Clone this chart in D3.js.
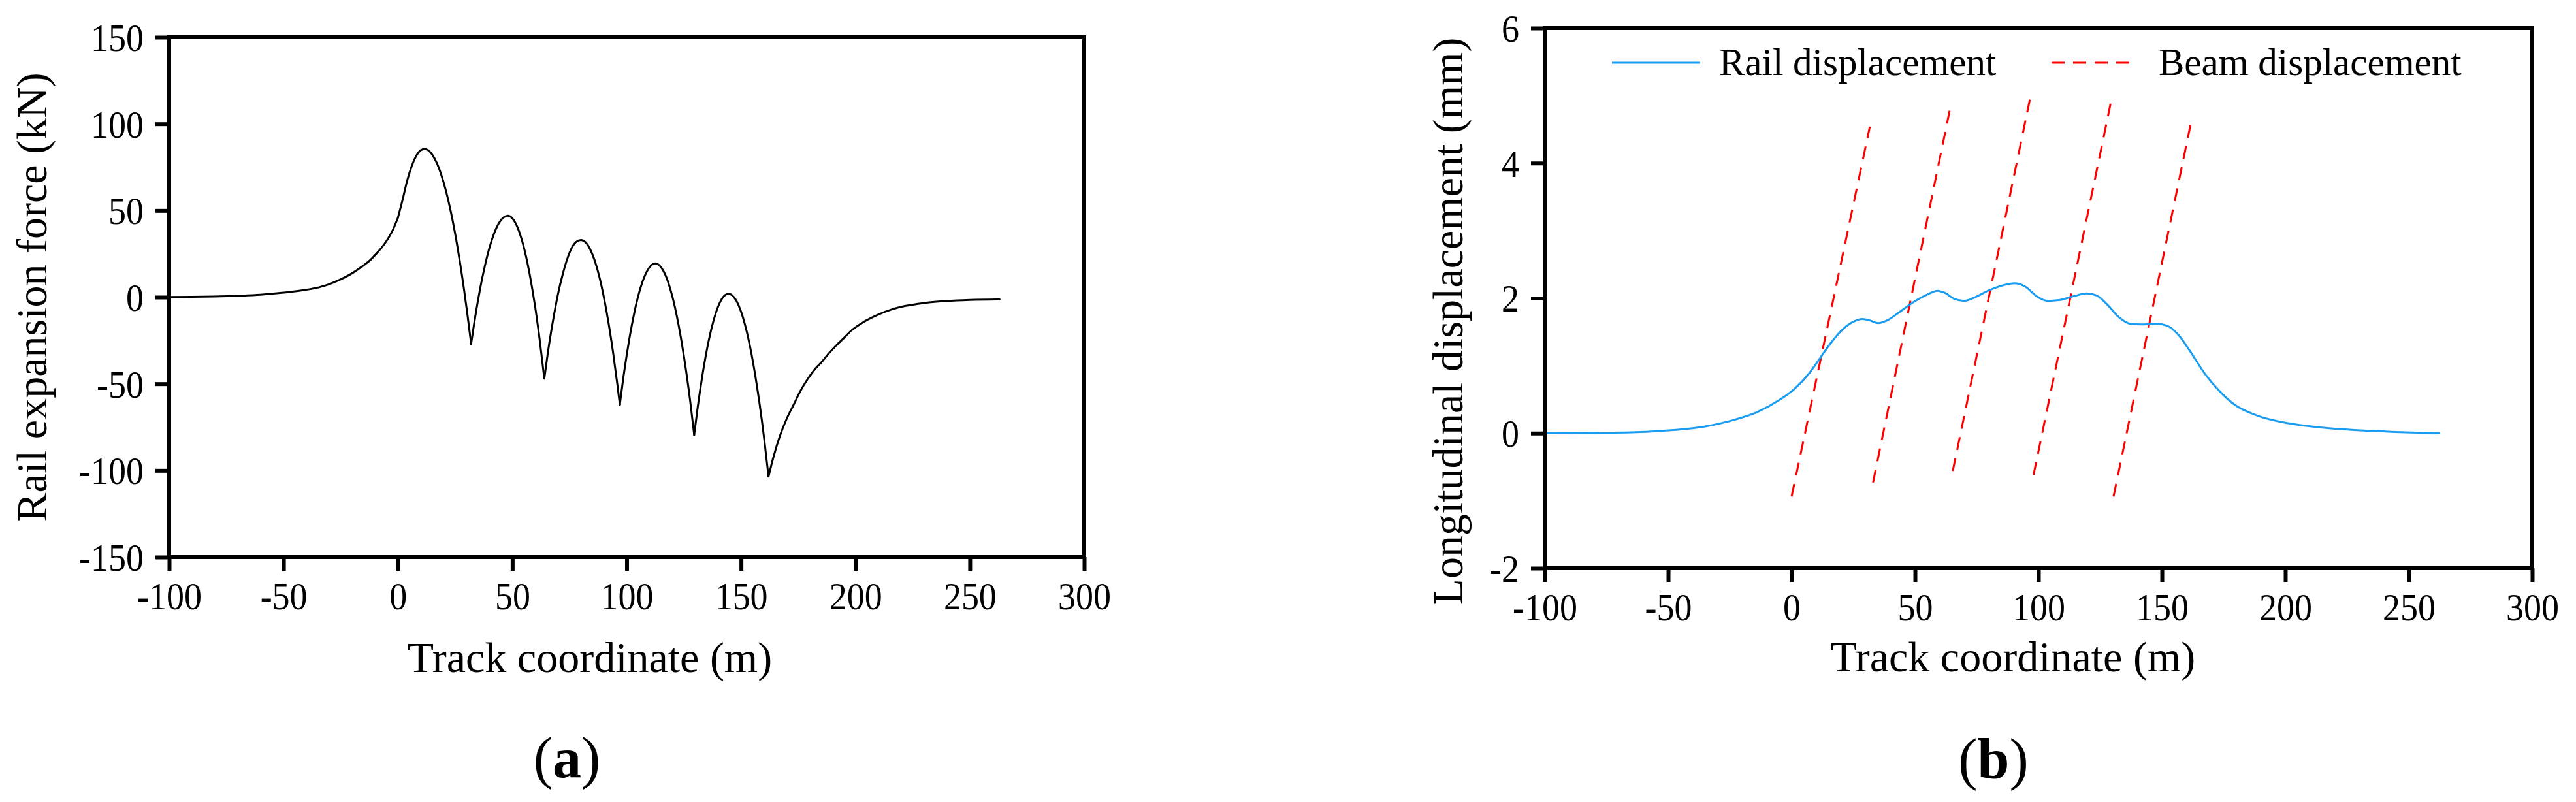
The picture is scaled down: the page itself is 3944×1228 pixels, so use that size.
<!DOCTYPE html>
<html>
<head>
<meta charset="utf-8">
<title>Rail expansion force and longitudinal displacement</title>
<script src="https://cdn.jsdelivr.net/npm/d3@7"></script>
<style>
	body { margin: 0; background: #ffffff; }
	text { font-family: "Liberation Serif", "Times New Roman", serif; fill: #000000; }
</style>
</head>
<body>
<script>
// track coordinate ticks, shared by both panels
var xTicks = [-100, -50, 0, 50, 100, 150, 200, 250, 300];
var forceTicks = [-150, -100, -50, 0, 50, 100, 150];
var dispTicks = [-2, 0, 2, 4, 6];

// (a) rail expansion force, kN
var forceX = [-100, -90, -80, -70, -60, -50, -40, -34, -30, -25, -20, -16, -12, -9.5, -7, -5, -2.5, 0,
	2, 4, 6, 8, 10, 11.5, 13, 15, 17, 19, 21, 23, 25, 27, 29, 30.5, 32,
	34, 36, 38, 40, 42, 44, 46, 48, 50, 52, 54, 56, 58, 60, 62, 64,
	66, 68, 70, 72, 74, 76, 78, 80, 82, 84, 86, 88, 90, 92, 94, 96, 97,
	99, 101, 103, 105, 107, 109, 111, 112.5, 114, 116, 118, 120, 122, 124, 126, 128, 129.5,
	131, 133, 135, 137, 139, 141, 143, 144.5, 146, 148, 150, 152, 154, 156, 158, 160, 162,
	164, 167, 170, 173, 176, 179, 182, 185.5, 188, 191.5, 195, 198, 204, 210, 216, 222, 230, 240, 250, 263];
var forceKN = [0.1, 0.2, 0.4, 0.8, 1.4, 2.6, 4.3, 5.9, 7.5, 10.3, 13.8, 17.4, 21.5, 25, 28.8, 32.4, 38, 45.8,
	56, 67, 75.5, 81.5, 84.8, 85.5, 85, 82.2, 77.4, 70.4, 61.3, 50.1, 36.7, 21.1, 3.5, -11.2, -27,
	-9.6, 5.4, 18, 28.5, 36.6, 42.4, 45.8, 47, 45.5, 41.1, 33.8, 23.5, 10.3, -5.7, -24.9, -47,
	-28, -12, 2, 13, 22, 28.5, 32, 33, 31.7, 27.7, 21.2, 12, 0.1, -14.4, -31.5, -51.2, -62,
	-42.2, -25.3, -11.1, 0.5, 9.2, 15.3, 18.7, 19.5, 18.7, 15.3, 9.1, 0.2, -11.5, -25.8, -42.8, -62.5, -79.5,
	-64, -45.9, -30.7, -18.4, -9, -2.4, 1.2, 2, 1.2, -2.2, -8.4, -17.4, -29, -43.5, -60.7, -80.6, -103.5,
	-93, -80, -70, -62, -54, -47.5, -42, -37, -33, -28, -23.5, -19.5, -14, -10, -7, -5, -3.4, -2.2, -1.6, -1.3];
// sharp corners of the force curve (beam joints)
var forceCusps = [0, 32, 64, 97, 129.5, 162];

// (b) rail displacement, mm
var railX = [-100, -80, -65, -50, -35, -23, -14, -5, 1, 7, 11.5, 16, 20.5, 25, 28.7, 31.7, 35, 38.7, 43.2, 49.3,
	55.3, 59, 62, 65.9, 69.9, 73.5, 79.6, 85.6, 90.2, 94.7, 99.2, 103.8, 108.3, 114.4, 119.5, 123.5,
	128, 132.5, 137.1, 141.6, 147.7, 152.2, 156.8, 161.3, 167.4, 173.4, 179.5, 188.6, 200.7, 212.8, 227.9, 243, 262.7];
var railMM = [0, 0.005, 0.012, 0.04, 0.1, 0.2, 0.31, 0.49, 0.65, 0.88, 1.11, 1.34, 1.53, 1.65, 1.69, 1.67, 1.63, 1.67, 1.78, 1.94,
	2.06, 2.11, 2.08, 1.99, 1.96, 2.0, 2.11, 2.19, 2.22, 2.17, 2.03, 1.96, 1.97, 2.03, 2.07, 2.04,
	1.9, 1.72, 1.62, 1.61, 1.62, 1.59, 1.45, 1.22, 0.88, 0.62, 0.42, 0.26, 0.15, 0.09, 0.045, 0.02, 0];

// (b) beam displacement, one straight line per span
var beamStart = [0, 33, 65.3, 98, 130.4];
var beamEnd = [31.7, 64.1, 96.5, 129.2, 161.6];
var beamLow = [-0.94, -0.73, -0.56, -0.62, -0.94];
var beamHigh = [4.54, 4.79, 4.94, 4.88, 4.57];

window.onload = function(){
	var w = 3944, h = 1228;
	var labelScale = 0.9;

	var svg = d3.select("body")
		.append("svg")
		.attr("width", w)
		.attr("height", h)
		.attr("class", "container")
		.style("background-color", "#ffffff");

	// draws frame, ticks and tick labels of one panel
	function drawAxes(box, x, y, yTicks){
		var g = svg.append("g").attr("class", "axes");

		var xAxis = g.append("g")
			.attr("transform", "translate(0," + box.bottom + ")")
			.call(d3.axisBottom(x).tickValues(xTicks).tickSize(21).tickSizeOuter(0).tickFormat(function(d){ return String(d); }));
		xAxis.selectAll("text")
			.attr("y", 80)
			.attr("dy", 0)
			.attr("transform", "scale(" + labelScale + ",1)");

		var yAxis = g.append("g")
			.attr("transform", "translate(" + box.left + ",0)")
			.call(d3.axisLeft(y).tickValues(yTicks).tickSize(21).tickSizeOuter(0).tickFormat(function(d){ return String(d); }));
		yAxis.selectAll("text")
			.attr("x", -39 / labelScale)
			.attr("dy", "0.34em")
			.attr("transform", "scale(" + labelScale + ",1)");

		g.selectAll(".domain").remove();
		g.selectAll(".tick line").attr("stroke", "#000").attr("stroke-width", 6);
		g.selectAll(".tick text").style("font-size", "60px");

		// closed frame round the plot
		g.append("rect")
			.attr("x", box.left)
			.attr("y", box.top)
			.attr("width", box.right - box.left)
			.attr("height", box.bottom - box.top)
			.attr("fill", "none")
			.attr("stroke", "#000")
			.attr("stroke-width", 6);
	}

	// ---------- panel (a) ----------
	var boxA = {left: 259, right: 1660, top: 57, bottom: 853};
	var xA = d3.scaleLinear().domain([-100, 300]).range([boxA.left, boxA.right]);
	var yA = d3.scaleLinear().domain([-150, 150]).range([boxA.bottom, boxA.top]);

	var forcePts = forceX.map(function(d, i){ return [d, forceKN[i]]; });
	var forceLine = d3.line()
		.x(function(d){ return xA(d[0]); })
		.y(function(d){ return yA(d[1]); })
		.curve(d3.curveMonotoneX);

	// split at the cusps so the corners stay sharp
	var edges = [-Infinity].concat(forceCusps, [Infinity]);
	var pieces = [];
	for (var k = 0; k < edges.length - 1; k++){
		pieces.push(forcePts.filter(function(p){ return p[0] >= edges[k] && p[0] <= edges[k + 1]; }));
	}
	svg.append("g").selectAll(".forceLine")
		.data(pieces)
		.enter()
		.append("path")
		.attr("class", "forceLine")
		.attr("d", forceLine)
		.attr("fill", "none")
		.attr("stroke", "#000")
		.attr("stroke-width", 3)
		.attr("stroke-linejoin", "round")
		.attr("stroke-linecap", "round");

	drawAxes(boxA, xA, yA, forceTicks);

	svg.append("text")
		.attr("x", 903)
		.attr("y", 1029)
		.attr("text-anchor", "middle")
		.style("font-size", "66px")
		.text("Track coordinate (m)");

	svg.append("text")
		.attr("transform", "translate(71," + ((boxA.top + boxA.bottom) / 2) + ") rotate(-90)")
		.attr("text-anchor", "middle")
		.style("font-size", "66px")
		.text("Rail expansion force (kN)");

	var capA = svg.append("text")
		.attr("x", 868)
		.attr("y", 1190)
		.attr("text-anchor", "middle")
		.style("font-size", "88px");
	capA.append("tspan").text("(");
	capA.append("tspan").style("font-weight", "bold").text("a");
	capA.append("tspan").text(")");

	// ---------- panel (b) ----------
	var boxB = {left: 2365, right: 3877, top: 43, bottom: 870};
	var xB = d3.scaleLinear().domain([-100, 300]).range([boxB.left, boxB.right]);
	var yB = d3.scaleLinear().domain([-2, 6]).range([boxB.bottom, boxB.top]);

	var railColor = "#1a9cf0", beamColor = "#ff0000";

	// beam displacement, dashed red spans
	svg.append("g").selectAll(".beamLine")
		.data(beamStart)
		.enter()
		.append("line")
		.attr("class", "beamLine")
		.attr("x1", function(d){ return xB(d); })
		.attr("y1", function(d, i){ return yB(beamLow[i]); })
		.attr("x2", function(d, i){ return xB(beamEnd[i]); })
		.attr("y2", function(d, i){ return yB(beamHigh[i]); })
		.attr("stroke", beamColor)
		.attr("stroke-width", 3)
		.attr("stroke-dasharray", "20,13");

	// rail displacement, solid blue
	var railLine = d3.line()
		.x(function(d){ return xB(d); })
		.y(function(d, i){ return yB(railMM[i]); })
		.curve(d3.curveMonotoneX);
	svg.append("path")
		.datum(railX)
		.attr("class", "railLine")
		.attr("d", railLine)
		.attr("fill", "none")
		.attr("stroke", railColor)
		.attr("stroke-width", 3);

	drawAxes(boxB, xB, yB, dispTicks);

	// legend
	var legend = svg.append("g").attr("class", "legend");
	legend.append("line")
		.attr("x1", 2468).attr("x2", 2603)
		.attr("y1", 96).attr("y2", 96)
		.attr("stroke", railColor)
		.attr("stroke-width", 3);
	legend.append("text")
		.attr("x", 2632).attr("y", 115)
		.style("font-size", "59px")
		.text("Rail displacement");
	legend.append("line")
		.attr("x1", 3141).attr("x2", 3270)
		.attr("y1", 96).attr("y2", 96)
		.attr("stroke", beamColor)
		.attr("stroke-width", 3)
		.attr("stroke-dasharray", "20,13");
	legend.append("text")
		.attr("x", 3305).attr("y", 115)
		.style("font-size", "59px")
		.text("Beam displacement");

	svg.append("text")
		.attr("x", 3082)
		.attr("y", 1028)
		.attr("text-anchor", "middle")
		.style("font-size", "66px")
		.text("Track coordinate (m)");

	svg.append("text")
		.attr("transform", "translate(2239,492) rotate(-90)")
		.attr("text-anchor", "middle")
		.style("font-size", "66px")
		.text("Longitudinal displacement (mm)");

	var capB = svg.append("text")
		.attr("x", 3052)
		.attr("y", 1192)
		.attr("text-anchor", "middle")
		.style("font-size", "88px");
	capB.append("tspan").text("(");
	capB.append("tspan").style("font-weight", "bold").text("b");
	capB.append("tspan").text(")");
};
</script>
</body>
</html>
